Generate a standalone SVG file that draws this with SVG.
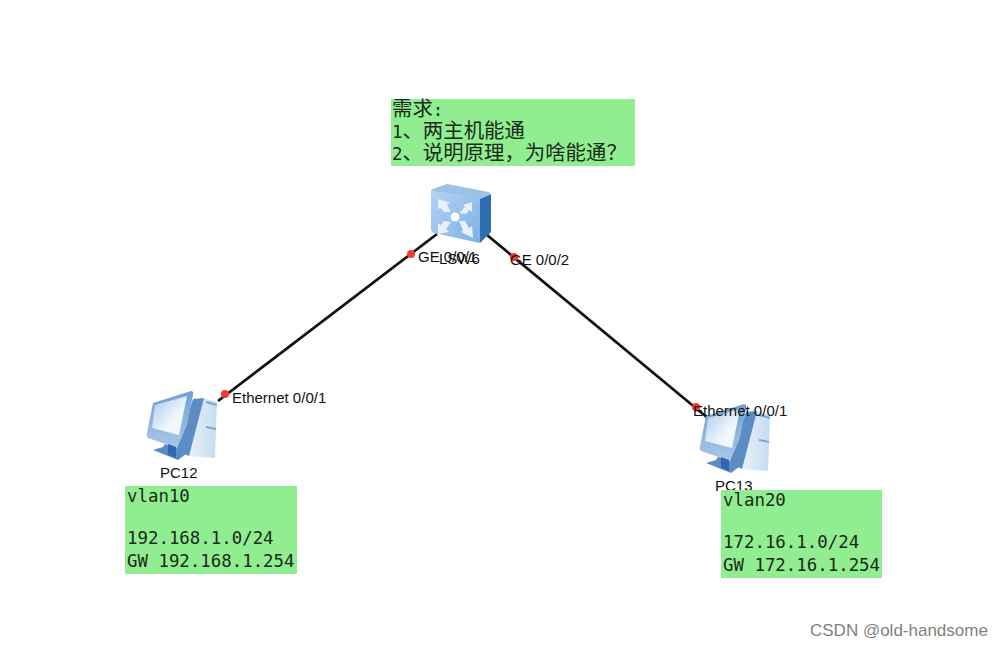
<svg xmlns="http://www.w3.org/2000/svg" xmlns:xlink="http://www.w3.org/1999/xlink" width="1002" height="646" viewBox="0 0 1002 646">
<style>
.lbl{font-family:"Liberation Sans",Arial,sans-serif;font-size:15px;fill:#111}
.note{fill:#90ee90}
.mono{font-family:"DejaVu Sans Mono","Liberation Mono",monospace;font-size:17.4px;fill:#1a2a1a}
.cjk{font-family:"Noto Sans CJK SC",sans-serif;font-size:20.4px}
.link{stroke:#111;stroke-width:2.7;fill:none}
.port{fill:#f5392c}
</style>
<defs>
<linearGradient id="sw" x1="0" y1="0" x2="1" y2="1"><stop offset="0" stop-color="#b5d3f2"/><stop offset="1" stop-color="#7dafe4"/></linearGradient>
<linearGradient id="scr" x1="0" y1="0" x2="1" y2="1"><stop offset="0" stop-color="#a9c9ea"/><stop offset="0.6" stop-color="#eef5fc"/><stop offset="1" stop-color="#f8fbff"/></linearGradient>
<linearGradient id="tw" x1="0" y1="0" x2="1" y2="0"><stop offset="0" stop-color="#e8f1fa"/><stop offset="1" stop-color="#c6dcf1"/></linearGradient>
<linearGradient id="mon" x1="0" y1="0" x2="0" y2="1"><stop offset="0" stop-color="#6f9fd2"/><stop offset="1" stop-color="#a9c8e8"/></linearGradient>
<g id="pc">
<path d="M203 398 L217 402 L215 458 L188 456 Z" fill="url(#tw)"/>
<path d="M193 399 L204 398 L189 456 L176 450 Z" fill="#5b8cc4"/>
<path d="M206 402 L217 405 M206 427 L216 429" stroke="#7ea7d2" stroke-width="2"/>
<path d="M153 403 L191 391 Q194 391 193 395 L187 425 L177 448 L148 438 Q146 436 147 433 Z" fill="url(#mon)"/>
<path d="M155 405 L187 396 L179 435 L152 428 Z" fill="url(#scr)"/>
<path d="M165 444 L178 449 L186 454 L178 460 L153 450 L163 447 Z" fill="#5b8cc4"/>
<path d="M168 444 L176 447 L176 458 L168 455 Z" fill="#2e68ae"/>
</g>
</defs>
<rect width="1002" height="646" fill="#fff"/>
<g id="connectors">
<line class="link" x1="437" y1="234" x2="218" y2="401"/>
<line class="link" x1="487" y1="235" x2="709" y2="419"/>
</g>
<g id="sw-node">
<path d="M431 191 Q431 190 433 189 L447 184 L489 192 Q491 193 490 194 L480 199 Z" fill="#9cc0e8"/>
<path d="M480 199 L491 194 L491 232 L480 243 Z" fill="#2f6fb0"/>
<path d="M431 191 L480 197 L480 243 L434 233 Q431 232 431 229 Z" fill="url(#sw)"/>
<circle cx="455" cy="217" r="4.5" fill="#fff"/>
<g fill="#e6f0fb">
<path d="M438 199 L450 203 L447 205 L451 212 L444 212 L441 208 L438 209 Z"/>
<path d="M472 202 L463 205 L465 207 L459 213 L466 214 L469 210 L472 212 Z"/>
<path d="M438 234 L449 232 L446 229 L451 222 L444 221 L441 225 L438 223 Z"/>
<path d="M473 238 L472 226 L469 228 L465 221 L459 221 L463 230 L461 232 Z"/>
</g>
<text class="lbl" x="439" y="264">LSW6</text>
</g>
<g id="pc12-node">
<use xlink:href="#pc" href="#pc"/>
<text class="lbl" x="160" y="478">PC12</text>
</g>
<g id="pc13-node">
<use xlink:href="#pc" href="#pc" transform="translate(553,13)"/>
<text class="lbl" x="715" y="491">PC13</text>
</g>
<g id="ports">
<circle class="port" cx="411" cy="254" r="4"/>
<circle class="port" cx="514" cy="257" r="4"/>
<circle class="port" cx="225" cy="394" r="4"/>
<circle class="port" cx="696" cy="407" r="4"/>
<text class="lbl" x="418" y="262">GE 0/0/1</text>
<text class="lbl" x="510" y="265">GE 0/0/2</text>
<text class="lbl" x="232" y="403">Ethernet 0/0/1</text>
<text class="lbl" x="693" y="416">Ethernet 0/0/1</text>
</g>
<g id="note-req">
<rect class="note" x="391" y="99" width="244" height="67"/>
<text class="mono" x="392" y="116"><tspan class="cjk">需求</tspan>:</text>
<text class="mono" x="392" y="138">1<tspan class="cjk">、两主机能通</tspan></text>
<text class="mono" x="392" y="160">2<tspan class="cjk">、说明原理，为啥能通？</tspan></text>
</g>
<g id="note-vlan10">
<rect class="note" x="125" y="486" width="172" height="88"/>
<text class="mono" x="127" y="502">vlan10</text>
<text class="mono" x="127" y="544">192.168.1.0/24</text>
<text class="mono" x="127" y="567">GW 192.168.1.254</text>
</g>
<g id="note-vlan20">
<rect class="note" x="721" y="490" width="161" height="88"/>
<text class="mono" x="723" y="506">vlan20</text>
<text class="mono" x="723" y="548">172.16.1.0/24</text>
<text class="mono" x="723" y="571">GW 172.16.1.254</text>
</g>
<text x="810" y="636" font-family="'Liberation Sans',Arial,sans-serif" font-size="17" fill="#7f7f7f">CSDN @old-handsome</text>
</svg>
